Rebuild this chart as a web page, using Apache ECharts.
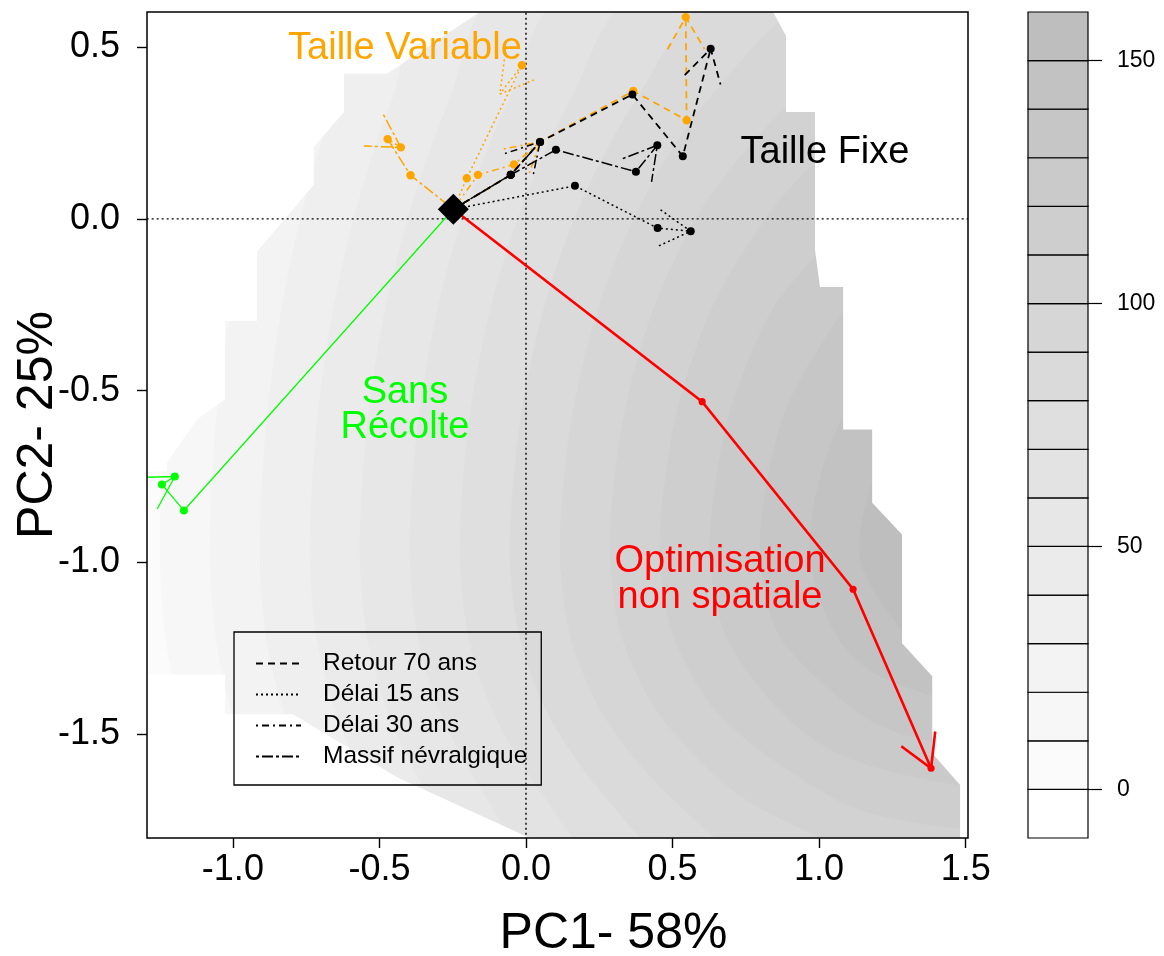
<!DOCTYPE html>
<html><head><meta charset="utf-8">
<script src="https://cdn.jsdelivr.net/npm/echarts@6/dist/echarts.min.js"></script>
<style>html,body{margin:0;padding:0;background:#fff}#c{width:1164px;height:956px}</style>
</head><body><div id="c"></div>
<script>
const FONT = '"Liberation Sans", Arial, Helvetica, sans-serif';

// ---- axes / key ----
const xTicks = [-1.0, -0.5, 0.0, 0.5, 1.0, 1.5];
const yTicks = [-1.5, -1.0, -0.5, 0.0, 0.5];
const keyTicks = [0, 50, 100, 150];
const keyBreaks = [-10, 0, 10, 20, 30, 40, 50, 60, 70, 80, 90, 100, 110, 120, 130, 140, 150, 160];

// ---- background surface: contour lines (value >= level to the right) ----
const contourLevels = [10, 20, 30, 40, 50, 60, 70, 80, 90, 100, 110, 120, 130, 140, 150];
const c10 = [[-0.911,0.637],[-1.026,0.346],[-1.115,0.055],[-1.180,-0.235],[-1.223,-0.526],[-1.243,-0.759],[-1.249,-0.991],[-1.230,-1.224],[-1.172,-1.456],[-1.072,-1.689],[-0.967,-1.863]];
const c20 = [[-0.715,0.637],[-0.839,0.346],[-0.935,0.055],[-1.004,-0.235],[-1.051,-0.526],[-1.072,-0.759],[-1.078,-0.991],[-1.058,-1.224],[-0.996,-1.456],[-0.889,-1.689],[-0.776,-1.863]];
const c30 = [[-0.515,0.637],[-0.651,0.346],[-0.754,0.055],[-0.829,-0.235],[-0.878,-0.526],[-0.900,-0.759],[-0.908,-0.991],[-0.886,-1.224],[-0.819,-1.456],[-0.704,-1.689],[-0.581,-1.863]];
const c40 = [[-0.309,0.637],[-0.458,0.346],[-0.571,0.055],[-0.652,-0.235],[-0.705,-0.526],[-0.729,-0.759],[-0.737,-0.991],[-0.714,-1.224],[-0.642,-1.456],[-0.517,-1.689],[-0.382,-1.863]];
const c50 = [[-0.095,0.637],[-0.262,0.346],[-0.385,0.055],[-0.474,-0.235],[-0.532,-0.526],[-0.558,-0.759],[-0.567,-0.991],[-0.541,-1.224],[-0.463,-1.456],[-0.327,-1.689],[-0.177,-1.863]];
const c60 = [[0.131,0.637],[-0.059,0.346],[-0.197,0.055],[-0.295,-0.235],[-0.358,-0.526],[-0.387,-0.759],[-0.396,-0.991],[-0.368,-1.224],[-0.283,-1.456],[-0.132,-1.689],[0.036,-1.863]];
const c70 = [[0.375,0.637],[0.151,0.346],[-0.005,0.055],[-0.114,-0.235],[-0.184,-0.526],[-0.215,-0.759],[-0.225,-0.991],[-0.195,-1.224],[-0.101,-1.456],[0.068,-1.689],[0.262,-1.863]];
const c80 = [[0.651,0.637],[0.375,0.346],[0.192,0.055],[0.069,-0.235],[-0.009,-0.526],[-0.043,-0.759],[-0.055,-0.991],[-0.021,-1.224],[0.084,-1.456],[0.277,-1.689],[0.509,-1.863]];
const c90 = [[1.006,0.637],[0.620,0.346],[0.399,0.055],[0.256,-0.235],[0.167,-0.526],[0.129,-0.759],[0.116,-0.991],[0.154,-1.224],[0.272,-1.456],[0.500,-1.689],[0.796,-1.863]];
const c100 = [[1.567,0.566],[1.174,0.491],[0.911,0.346],[0.619,0.055],[0.447,-0.235],[0.345,-0.526],[0.301,-0.759],[0.287,-0.991],[0.329,-1.224],[0.467,-1.456],[0.747,-1.689],[1.208,-1.863],[1.567,-1.900]];
const c110 = [[1.567,0.358],[1.416,0.346],[1.046,0.201],[0.866,0.055],[0.647,-0.235],[0.525,-0.526],[0.474,-0.759],[0.457,-0.991],[0.507,-1.224],[0.672,-1.456],[1.053,-1.689],[1.256,-1.747],[1.567,-1.779]];
const c120 = [[1.567,0.151],[1.328,0.113],[1.191,0.055],[0.863,-0.235],[0.709,-0.526],[0.648,-0.759],[0.628,-0.991],[0.687,-1.224],[0.895,-1.456],[1.108,-1.573],[1.567,-1.657]];
const c130 = [[1.567,-0.058],[1.290,-0.119],[1.115,-0.235],[0.901,-0.526],[0.823,-0.759],[0.799,-0.991],[0.872,-1.224],[1.166,-1.456],[1.352,-1.515],[1.567,-1.536]];
const c140 = [[1.567,-0.265],[1.242,-0.381],[1.108,-0.526],[1.001,-0.759],[0.969,-0.991],[1.067,-1.224],[1.227,-1.340],[1.567,-1.415]];
const c150 = [[1.567,-0.472],[1.301,-0.584],[1.185,-0.759],[1.140,-0.991],[1.301,-1.224],[1.353,-1.253],[1.567,-1.305]];
const contourLines = [c10, c20, c30, c40, c50, c60, c70, c80, c90, c100, c110, c120, c130, c140, c150];

// ---- edges of the area where the surface is defined ----
const maskLeft = [[-0.096,0.637],[-0.474,0.422],[-0.621,0.422],[-0.621,0.311],[-0.724,0.209],[-0.724,0.099],[-0.918,-0.096],[-0.918,-0.297],[-1.027,-0.297],[-1.027,-0.526],[-1.123,-0.584],[-1.225,-0.709],[-1.225,-0.735],[-1.352,-0.735]];
const maskBottomLeft = [[-1.352,-1.326],[-1.027,-1.326],[-1.027,-1.442],[-0.795,-1.442],[-0.440,-1.625],[0.013,-1.802],[0.116,-1.84]];
const maskRight = [[1.481,-1.863],[1.481,-1.648],[1.386,-1.555],[1.386,-1.331],[1.283,-1.235],[1.283,-0.919],[1.181,-0.826],[1.181,-0.613],[1.082,-0.613],[1.082,-0.198],[1.003,-0.198],[0.986,-0.090],[0.986,0.311],[0.887,0.311],[0.887,0.533],[0.843,0.602],[0.809,0.637]];

// ---- trajectories ----
const origin = [-0.248, 0.028];
const redPts = [[0.601,-0.532],[1.116,-1.078],[1.382,-1.599]];
const greenPts = [[-1.167,-0.849],[-1.242,-0.773],[-1.198,-0.750]];
const orangeRetour = [[-0.052,0.128],[0.048,0.224],[0.366,0.372],[0.548,0.287],[0.545,0.587]];
const orangeDelai15 = [[-0.202,0.118],[-0.014,0.447],[-0.089,0.363]];
const orangeDelai30 = [[-0.164,0.128],[-0.041,0.158],[0.048,0.224]];
const orangeMassif = [[-0.394,0.127],[-0.472,0.232],[-0.427,0.208]];
const blackRetour = [[-0.052,0.128],[0.048,0.224],[0.363,0.362],[0.535,0.182],[0.630,0.495]];
const blackDelai15 = [[0.167,0.096],[0.449,-0.027],[0.562,-0.036]];
const blackDelai30 = [[-0.052,0.128],[0.048,0.224]];
const blackMassif = [[-0.052,0.128],[0.102,0.201],[0.375,0.137],[0.448,0.214]];

const legendNames = ['Retour 70 ans', 'Délai 15 ans', 'Délai 30 ans', 'Massif névralgique'];

// ---- annotations ----
const labelTexts = ['Taille Variable', 'Taille Fixe', 'Sans', 'Récolte', 'Optimisation', 'non spatiale'];
const labelAt = [[-0.413,0.497],[1.020,0.192],[-0.413,-0.506],[-0.413,-0.608],[0.662,-0.997],[0.662,-1.102]];

// ================= styles =================
const ORANGE = '#FFA500', BLACK = '#000000', GREEN = '#00FF00', RED = '#FF0000';
const DASH = { retour: [7, 5], delai15: [2, 3], delai30: [2, 4, 7, 4], massif: [3, 3, 11, 3] };
const labelColors = [ORANGE, BLACK, GREEN, GREEN, RED, RED];
const keyColors = keyBreaks.slice(0, -1).map((_, k) => {
  const g = Math.round(255 - 65 * k / 16); return 'rgb(' + g + ',' + g + ',' + g + ')';
});
const paths = [
  { pts: orangeRetour, color: ORANGE, dash: DASH.retour, w: 1.8, r: 4.2 },
  { pts: orangeDelai15, color: ORANGE, dash: DASH.delai15, w: 1.5, r: 4.2, noEndDot: true },
  { pts: orangeDelai30, color: ORANGE, dash: DASH.delai30, w: 1.5, r: 4.2 },
  { pts: orangeMassif, color: ORANGE, dash: DASH.massif, w: 1.5, r: 4.2 },
  { pts: blackRetour, color: BLACK, dash: DASH.retour, w: 1.8, r: 4 },
  { pts: blackDelai15, color: BLACK, dash: DASH.delai15, w: 1.5, r: 4 },
  { pts: blackDelai30, color: BLACK, dash: DASH.delai30, w: 1.5, r: 4 },
  { pts: blackMassif, color: BLACK, dash: DASH.massif, w: 1.5, r: 4 },
  { pts: greenPts, color: GREEN, dash: null, w: 1.3, r: 4 },
  { pts: redPts, color: RED, dash: null, w: 2.6, r: 3.6 }
];
const legendDash = [DASH.retour, DASH.delai15, DASH.delai30, DASH.massif];

function renderField(params, api) {
  const i = params.dataIndex, cs = params.coordSys;
  if (i === 0) {
    return { type: 'rect', shape: { x: cs.x, y: cs.y, width: cs.width, height: cs.height },
      style: { fill: keyColors[keyBreaks.indexOf(0)] } };
  }
  const line = contourLines[i - 1];
  const first = line[0], last = line[line.length - 1];
  const pts = line.map(p => api.coord(p));
  pts.push(api.coord([2.6, last[1]]));
  pts.push(api.coord([2.6, first[1]]));
  return { type: 'polygon', shape: { points: pts, smooth: 0.3 },
    style: { fill: keyColors[keyBreaks.indexOf(contourLevels[i - 1])] } };
}
const maskRegions = [
  { edge: maskLeft, close: e => [[-2, e[e.length - 1][1]], [-2, 1], [e[0][0], 1]] },
  { edge: maskBottomLeft, close: e => [[e[e.length - 1][0], -2.5], [-2, -2.5], [-2, e[0][1]]] },
  { edge: maskRight, close: e => [[e[e.length - 1][0], 1], [3, 1], [3, -2.5], [e[0][0], -2.5]] }
];
function renderMask(params, api) {
  const m = maskRegions[params.dataIndex];
  const pts = m.edge.concat(m.close(m.edge)).map(p => api.coord(p));
  return { type: 'polygon', shape: { points: pts }, style: { fill: '#ffffff' } };
}
function renderZero(params, api) {
  const a = params.dataIndex === 0 ? [[-3, 0], [3, 0]] : [[0, -3], [0, 3]];
  const p = a.map(d => api.coord(d));
  return { type: 'line', shape: { x1: p[0][0], y1: p[0][1], x2: p[1][0], y2: p[1][1] },
    style: { stroke: '#000', lineWidth: 1.4, lineDash: [2, 3] } };
}
function renderPath(params, api) {
  const p = paths[params.dataIndex];
  const all = [origin].concat(p.pts).map(d => api.coord(d));
  const lineStyle = { stroke: p.color, lineWidth: p.w, lineDash: p.dash, fill: 'none' };
  const ch = [{ type: 'polyline', shape: { points: all }, style: lineStyle }];
  const tip = all[all.length - 1], prev = all[all.length - 2];
  const ang = Math.atan2(prev[1] - tip[1], prev[0] - tip[0]);
  const L = 37, a = Math.PI / 6;
  const h1 = [tip[0] + L * Math.cos(ang + a), tip[1] + L * Math.sin(ang + a)];
  const h2 = [tip[0] + L * Math.cos(ang - a), tip[1] + L * Math.sin(ang - a)];
  ch.push({ type: 'polyline', shape: { points: [h1, tip, h2] }, style: lineStyle });
  p.pts.forEach((d, k) => {
    if (p.noEndDot && k === p.pts.length - 1) return;
    const c = api.coord(d);
    ch.push({ type: 'circle', shape: { cx: c[0], cy: c[1], r: p.r }, style: { fill: p.color } });
  });
  return { type: 'group', children: ch };
}
function renderFrame(params, api) {
  const cs = params.coordSys;
  return { type: 'rect', shape: { x: cs.x, y: cs.y, width: cs.width, height: cs.height },
    style: { fill: 'none', stroke: '#000', lineWidth: 1.5 } };
}
function renderLabel(params, api) {
  const i = params.dataIndex, c = api.coord(labelAt[i]);
  return { type: 'text', x: c[0], y: c[1],
    style: { text: labelTexts[i], fill: labelColors[i], fontSize: 38, fontFamily: FONT, align: 'center', verticalAlign: 'middle' } };
}
function renderKey(params, api) {
  const k = params.dataIndex;
  const p1 = api.coord([0, keyBreaks[k]]), p2 = api.coord([1, keyBreaks[k + 1]]);
  return { type: 'rect', shape: { x: p1[0], y: p2[1], width: p2[0] - p1[0], height: p1[1] - p2[1] },
    style: { fill: keyColors[k], stroke: '#000', lineWidth: 1.2 } };
}

const chart = echarts.init(document.getElementById('c'), null, { renderer: 'canvas' });
const dummy = n => Array.from({ length: n }, () => [0, 0]);
const option = {
  backgroundColor: '#ffffff',
  animation: false,
  textStyle: { fontFamily: FONT },
  grid: [
    { left: 147, top: 12, width: 821, height: 826, show: false, containLabel: false, outerBoundsMode: 'none' },
    { left: 1028, top: 12, width: 60, height: 826, show: false, containLabel: false, outerBoundsMode: 'none' }
  ],
  xAxis: [
    { type: 'value', gridIndex: 0, min: -1.293, max: 1.508,
      axisLine: { show: false, onZero: false }, splitLine: { show: false },
      axisTick: { show: true, customValues: xTicks, length: 10, lineStyle: { color: '#000', width: 1.4 } },
      axisLabel: { customValues: xTicks, formatter: v => v.toFixed(1), fontSize: 36, color: '#000', margin: 14, fontFamily: FONT },
      name: 'PC1- 58%', nameLocation: 'middle', nameGap: 71, nameMoveOverlap: false,
      nameTextStyle: { fontSize: 50, color: '#000', fontFamily: FONT, padding: [0, 0, 0, 112] } },
    { type: 'value', gridIndex: 1, min: 0, max: 1, show: false }
  ],
  yAxis: [
    { type: 'value', gridIndex: 0, min: -1.802, max: 0.602,
      axisLine: { show: false, onZero: false }, splitLine: { show: false },
      axisTick: { show: true, customValues: yTicks, length: 10, lineStyle: { color: '#000', width: 1.4 } },
      axisLabel: { customValues: yTicks, formatter: v => v.toFixed(1), fontSize: 36, color: '#000', margin: 27, fontFamily: FONT },
      name: 'PC2- 25%', nameLocation: 'middle', nameGap: 84, nameRotate: 90, nameMoveOverlap: false,
      nameTextStyle: { fontSize: 50, color: '#000', fontFamily: FONT } },
    { type: 'value', gridIndex: 1, min: -10, max: 160, position: 'right',
      axisLine: { show: false, onZero: false }, splitLine: { show: false },
      axisTick: { show: true, customValues: keyTicks, length: 14, lineStyle: { color: '#000', width: 1.2 } },
      axisLabel: { customValues: keyTicks, fontSize: 23, color: '#000', margin: 29, fontFamily: FONT } }
  ],
  legend: {
    orient: 'vertical', left: 234, top: 632, padding: [19, 14, 16, 21], itemGap: 6,
    itemWidth: 45, itemHeight: 24, selectedMode: false,
    borderColor: '#000', borderWidth: 1.3, borderRadius: 0, backgroundColor: 'transparent',
    itemStyle: { opacity: 0 },
    textStyle: { fontSize: 24.5, color: '#000', fontFamily: FONT, padding: [0, 0, 0, 17] },
    data: legendNames
  },
  series: [
    { type: 'custom', name: 'surface', xAxisIndex: 0, yAxisIndex: 0, clip: true, silent: true, z: 1,
      renderItem: renderField, data: dummy(contourLevels.length + 1) },
    { type: 'custom', name: 'mask', xAxisIndex: 0, yAxisIndex: 0, clip: true, silent: true, z: 2,
      renderItem: renderMask, data: dummy(maskRegions.length) },
    { type: 'custom', name: 'zero', xAxisIndex: 0, yAxisIndex: 0, clip: true, silent: true, z: 3,
      renderItem: renderZero, data: dummy(2) },
    { type: 'custom', name: 'paths', xAxisIndex: 0, yAxisIndex: 0, clip: true, silent: true, z: 4,
      renderItem: renderPath, data: dummy(paths.length) },
    { type: 'custom', name: 'frame', xAxisIndex: 0, yAxisIndex: 0, clip: false, silent: true, z: 5,
      renderItem: renderFrame, data: dummy(1) },
    { type: 'scatter', name: 'origin', xAxisIndex: 0, yAxisIndex: 0, symbol: 'diamond', symbolSize: [31, 31],
      itemStyle: { color: '#000', opacity: 1 }, silent: true, z: 6, data: [origin] },
    { type: 'custom', name: 'labels', xAxisIndex: 0, yAxisIndex: 0, clip: false, silent: true, z: 7,
      renderItem: renderLabel, data: dummy(labelTexts.length) },
    { type: 'custom', name: 'key', xAxisIndex: 1, yAxisIndex: 1, clip: false, silent: true, z: 2,
      renderItem: renderKey, data: dummy(keyBreaks.length - 1) }
  ].concat(legendNames.map((n, i) => ({
    type: 'line', name: n, xAxisIndex: 0, yAxisIndex: 0, data: [], symbol: 'none', silent: true,
    itemStyle: { color: '#000', opacity: 0 }, lineStyle: { color: '#000', width: 1.3, opacity: 1, type: legendDash[i] }
  })))
};
chart.setOption(option);
</script></body></html>
